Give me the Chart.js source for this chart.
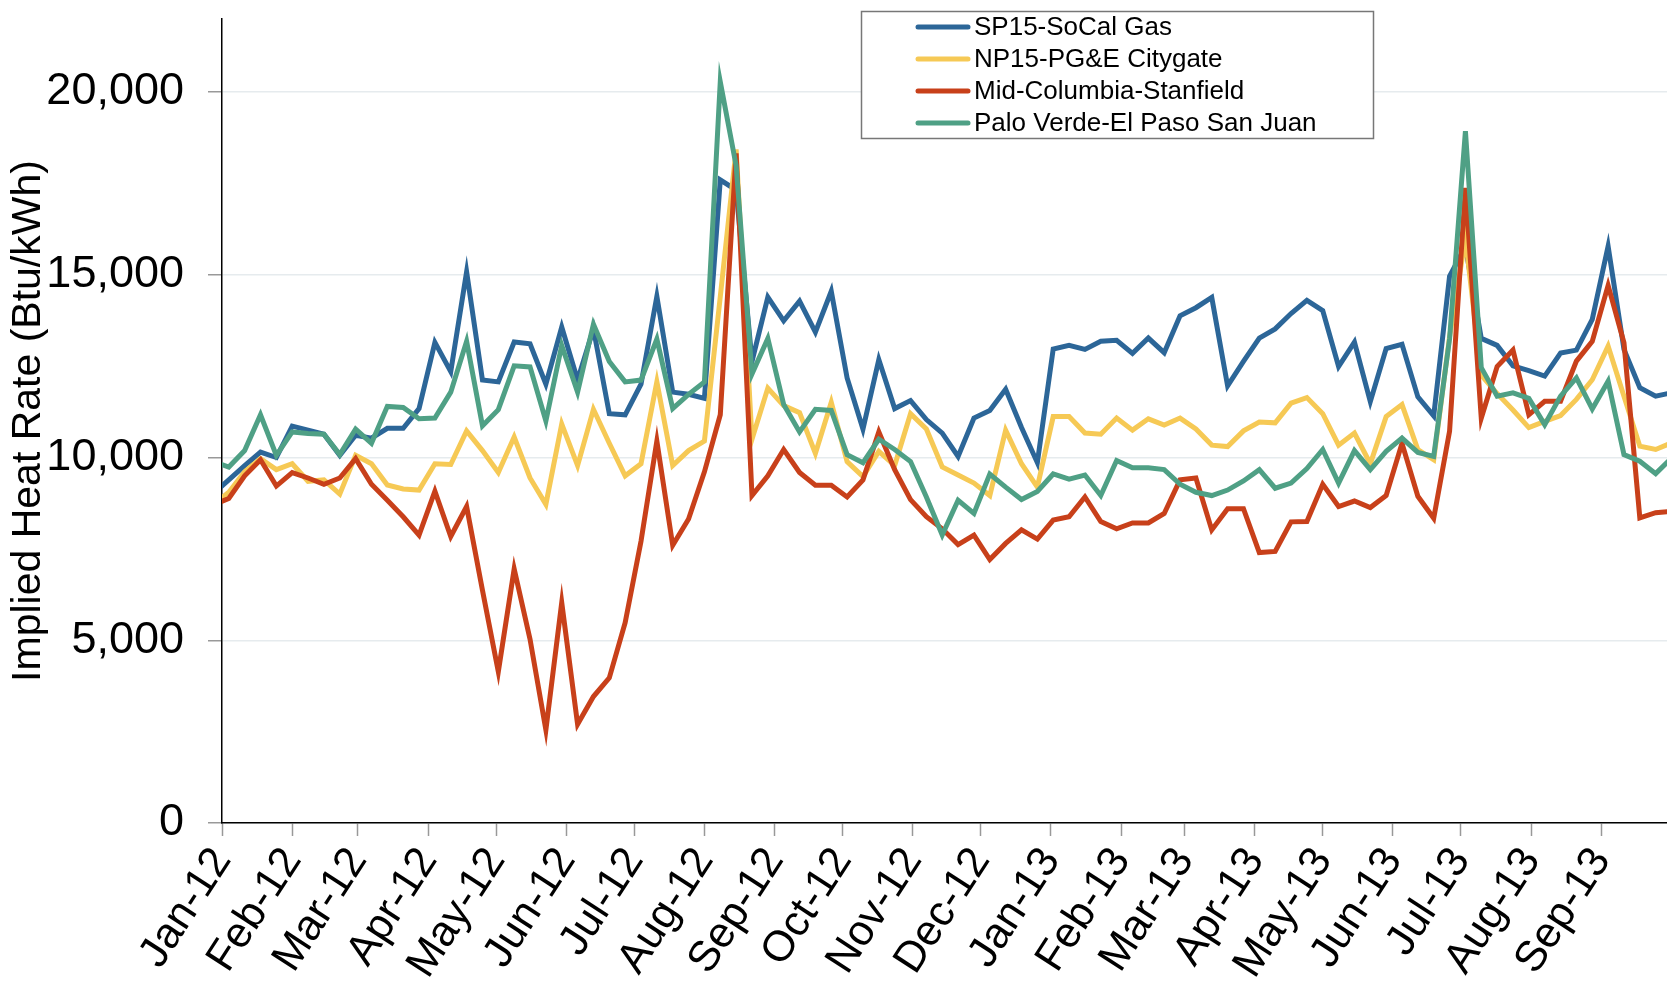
<!DOCTYPE html>
<html>
<head>
<meta charset="utf-8">
<script src="https://cdn.jsdelivr.net/npm/chart.js@4.4.1/dist/chart.umd.min.js"></script>
<style>
  html, body { margin: 0; padding: 0; background: #fff; }
  #wrap { width: 1667px; height: 981px; position: relative; }
</style>
</head>
<body>
<div id="wrap"><canvas id="heatChart"></canvas></div>
<script>
// weekly points, first week starts 28 Dec 2011 (day -4 from Jan 1 2012)
var firstWeek = Date.UTC(2011, 11, 28);
var axisStart = Date.UTC(2012, 0, 1);

var seriesNames = ["SP15-SoCal Gas", "NP15-PG&E Citygate", "Mid-Columbia-Stanfield", "Palo Verde-El Paso San Juan"];
var seriesColors = ["#2c6698", "#f6c955", "#c8401a", "#4fa085"];

var sp15 = [9000, 9390, 9780, 10150, 10000, 10860, 10750, 10640, 10060, 10610, 10530,
  10800, 10800, 11340, 13150, 12350, 15080, 12120, 12070, 13160, 13110,
  12010, 13570, 12120, 13520, 11200, 11170, 12010, 14410, 11790, 11730,
  11620, 17600, 17320, 12630, 14390, 13740, 14280, 13430, 14550, 12180,
  10780, 12680, 11340, 11560, 11040, 10670, 10030, 11080, 11290, 11870,
  10820, 9860, 12970, 13070, 12960, 13180, 13210, 12850, 13270, 12870,
  13880, 14100, 14380, 11960, 12630, 13270, 13520, 13940, 14300, 14020,
  12490, 13160, 11530, 12980, 13100, 11660, 11140, 14960, 15780, 13260,
  13070, 12510, 12380, 12230, 12860, 12940, 13780, 15780, 12960, 11910,
  11680, 11770];

var np15 = [8700, 9050, 9610, 9970, 9670, 9830, 9350, 9390, 9000, 10060, 9830,
  9250, 9140, 9110, 9830, 9810, 10730, 10190, 9590, 10560, 9440,
  8720, 10920, 9780, 11320, 10390, 9500, 9830, 12070, 9780, 10190,
  10450, 14400, 18430, 10500, 11900, 11420, 11230, 10110, 11510, 9890,
  9480, 10170, 9780, 11200, 10780, 9740, 9520, 9300, 8960, 10750,
  9830, 9190, 11120, 11120, 10670, 10640, 11080, 10750, 11060, 10890,
  11080, 10780, 10340, 10300, 10730, 10970, 10950, 11490, 11640, 11200,
  10340, 10670, 9830, 11120, 11450, 10220, 9940, 13300, 16000, 12250,
  11750, 11300, 10820, 10990, 11150, 11590, 12130, 13050, 11680, 10310,
  10220, 10400];

var midC = [8700, 8880, 9500, 9940, 9220, 9590, 9440, 9270, 9440, 9970, 9270,
  8830, 8380, 7880, 9080, 7840, 8660, 6370, 4140, 6950, 5030,
  2550, 6030, 2700, 3460, 3970, 5480, 7710, 10450, 7600, 8320,
  9610, 11170, 18320, 8960, 9500, 10220, 9590, 9240, 9240, 8920,
  9390, 10700, 9670, 8850, 8380, 8050, 7620, 7880, 7210, 7650,
  8020, 7770, 8290, 8380, 8920, 8250, 8050, 8210, 8210, 8470,
  9390, 9440, 8020, 8600, 8600, 7400, 7430, 8240, 8250, 9270,
  8660, 8810, 8630, 8960, 10390, 8940, 8340, 10720, 17380, 11080,
  12490, 12940, 11170, 11540, 11540, 12640, 13180, 14710, 13140, 8350,
  8490, 8530];

var paloVerde = [9900, 9740, 10190, 11170, 10060, 10700, 10660, 10640, 10080, 10780, 10390,
  11400, 11370, 11060, 11080, 11790, 13180, 10870, 11310, 12510, 12480,
  11000, 13070, 11790, 13650, 12630, 12070, 12120, 13240, 11340, 11730,
  12070, 20280, 17990, 12290, 13260, 11450, 10700, 11320, 11290, 10080,
  9860, 10500, 10220, 9890, 8920, 7880, 8830, 8470, 9550, 9190,
  8850, 9070, 9550, 9410, 9520, 8960, 9920, 9720, 9720, 9670,
  9270, 9050, 8960, 9110, 9360, 9670, 9160, 9300, 9700, 10220,
  9300, 10190, 9670, 10170, 10530, 10140, 10030, 13250, 18930, 12460,
  11680, 11770, 11620, 10900, 11680, 12180, 11330, 12090, 10080, 9900,
  9560, 9990];

var monthLabels = ["Jan-12", "Feb-12", "Mar-12", "Apr-12", "May-12", "Jun-12", "Jul-12", "Aug-12",
  "Sep-12", "Oct-12", "Nov-12", "Dec-12", "Jan-13", "Feb-13", "Mar-13", "Apr-13", "May-13",
  "Jun-13", "Jul-13", "Aug-13", "Sep-13"];
var yTicks = [0, 5000, 10000, 15000, 20000];

var DAY = 86400000;
var offset0 = (firstWeek - axisStart) / DAY;
function toPoints(vals) {
  return vals.map(function (v, i) { return { x: offset0 + 7 * i, y: v }; });
}
// month start positions in days since Jan 1 2012
var monthDays = monthLabels.map(function (m, i) {
  return (Date.UTC(2012, i, 1) - axisStart) / DAY;
});

var allSeries = [sp15, np15, midC, paloVerde];
var datasets = allSeries.map(function (vals, i) {
  return {
    label: seriesNames[i],
    data: toPoints(vals),
    borderColor: seriesColors[i],
    backgroundColor: seriesColors[i],
    borderWidth: 5,
    pointRadius: 0,
    tension: 0,
    clip: 0,
    order: 4 - i
  };
});

var FONT = "'Liberation Sans', Arial, sans-serif";

// boxed legend in the top middle
var boxLegend = {
  id: 'boxLegend',
  afterDraw: function (chart) {
    var ctx = chart.ctx;
    var x0 = 861, y0 = 11, w = 512, h = 127;
    ctx.save();
    ctx.fillStyle = '#fff';
    ctx.fillRect(x0, y0, w, h);
    ctx.strokeStyle = '#777';
    ctx.lineWidth = 1.5;
    ctx.strokeRect(x0 + 0.5, y0 + 0.5, w, h);
    ctx.font = '26px ' + FONT;
    ctx.textBaseline = 'middle';
    chart.data.datasets.forEach(function (ds, i) {
      var yy = 27 + i * 32;
      ctx.strokeStyle = ds.borderColor;
      ctx.lineWidth = 5;
      ctx.lineCap = 'round';
      ctx.beginPath();
      ctx.moveTo(918, yy);
      ctx.lineTo(968, yy);
      ctx.stroke();
      ctx.fillStyle = '#000';
      ctx.fillText(ds.label, 974, yy + 1);
    });
    ctx.restore();
  }
};

var ctx = document.getElementById("heatChart").getContext("2d");
var heatChart = new Chart(ctx, {
  type: 'line',
  data: { datasets: datasets },
  options: {
    responsive: true,
    maintainAspectRatio: false,
    animation: false,
    layout: { padding: { top: 19, right: 0, left: 0, bottom: 0 } },
    plugins: {
      legend: { display: false },
      tooltip: { enabled: false }
    },
    scales: {
      x: {
        type: 'linear',
        min: 0,
        max: 638,
        afterBuildTicks: function (scale) {
          scale.ticks = monthDays.map(function (d) { return { value: d }; });
        },
        afterFit: function (scale) {
          scale.height = 158;
          scale.paddingLeft = 0;
          scale.paddingRight = 0;
        },
        grid: { drawOnChartArea: false, drawTicks: true, tickLength: 13, tickColor: '#999', tickWidth: 1.5 },
        border: { color: '#000', width: 1.5 },
        ticks: {
          autoSkip: false,
          minRotation: 57,
          maxRotation: 57,
          padding: 3,
          color: '#000',
          font: { family: FONT, size: 43 },
          callback: function (v, i) { return monthLabels[i]; }
        }
      },
      y: {
        min: 0,
        max: 22000,
        afterBuildTicks: function (scale) {
          scale.ticks = yTicks.map(function (v) { return { value: v }; });
        },
        afterFit: function (scale) {
          scale.width = 222;
          scale.paddingTop = 0;
          scale.paddingBottom = 0;
        },
        grid: { color: '#e6ebee', lineWidth: 1.5, tickColor: '#999', tickLength: 14 },
        border: { color: '#000', width: 1.5 },
        ticks: {
          padding: 24,
          color: '#000',
          font: { family: FONT, size: 45 },
          callback: function (v) { return v.toLocaleString('en-US'); }
        },
        title: {
          display: true,
          text: 'Implied Heat Rate (Btu/kWh)',
          color: '#000',
          font: { family: FONT, size: 41 },
          padding: { top: 4, bottom: 0 }
        }
      }
    }
  },
  plugins: [boxLegend]
});
</script>
</body>
</html>
